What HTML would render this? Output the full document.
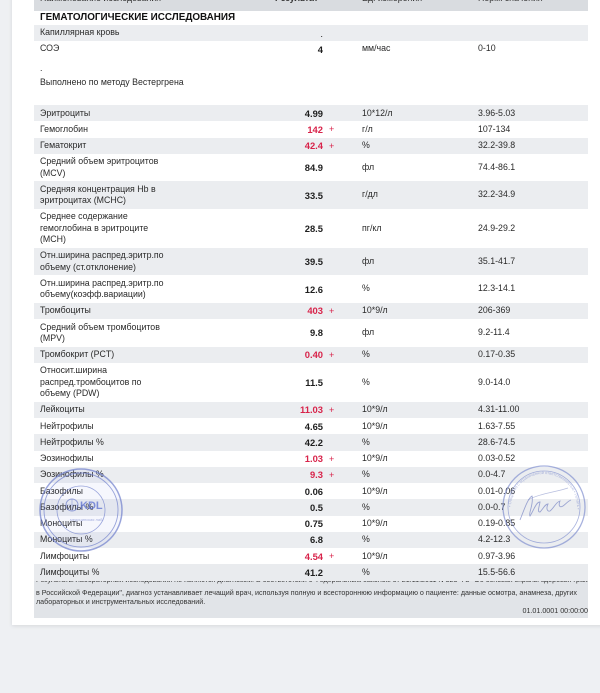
<!DOCTYPE html>
<html><head><meta charset="utf-8">
<style>
html,body{margin:0;padding:0;}
body{width:600px;height:693px;background:#eef0f3;position:relative;overflow:hidden;font-family:"Liberation Sans","Noto Sans CJK SC",sans-serif;color:#2a2a2a;}
.card{position:absolute;left:12px;top:-10px;width:600px;height:635px;background:#fff;box-shadow:0 1px 4px rgba(0,0,0,0.10);}
.r{position:absolute;left:34px;width:554px;font-size:8.8px;z-index:2;}
.g{background:#ebedf0;}
.r>span{position:absolute;top:0;height:100%;display:flex;align-items:center;white-space:nowrap;}
.r i{font-style:normal;display:block;line-height:11.2px;}
.n{left:6px;}
.v{right:265px;font-weight:bold;font-size:9.4px;color:#1e1e1e;}
.red{color:#d8234a !important;}
.p{left:295px;color:#d8234a;font-size:9px;}
.u{left:328px;}
.m{left:444px;}
.hd{position:absolute;left:34px;top:0;width:554px;height:10.5px;background:#d9dce0;overflow:hidden;font-size:8.8px;color:#333;}
.hd span{position:absolute;top:-7px;white-space:nowrap;}
.title{position:absolute;left:40px;top:11px;font-size:9.9px;font-weight:bold;color:#111;line-height:13px;white-space:nowrap;}
.t{position:absolute;font-size:8.8px;white-space:nowrap;line-height:12px;}
.foot{position:absolute;left:34px;top:570px;width:554px;height:47.5px;background:#e1e4e8;z-index:1;font-size:7.15px;color:#333;overflow:hidden;}
.foot div{position:absolute;left:2px;white-space:nowrap;line-height:9px;}
svg.st{position:absolute;left:0;top:0;z-index:5;pointer-events:none;}
</style></head><body>
<div class="card"></div>

<div class="hd">
<span style="left:6px">Наименование исследования</span>
<span style="left:241px;font-weight:bold">Результат</span>
<span style="left:328px">Ед. измерения</span>
<span style="left:444px">Норм. значения</span>
</div>

<div class="title">ГЕМАТОЛОГИЧЕСКИЕ ИССЛЕДОВАНИЯ</div>

<div class="r g" style="top:25px;height:16px"><span class="n"><i>Капиллярная кровь</i></span><span class="v" style="font-weight:normal">.</span></div>
<div class="r" style="top:41px;height:16px"><span class="n"><i>СОЭ</i></span><span class="v">4</span><span class="u"><i>мм/час</i></span><span class="m"><i>0-10</i></span></div>
<div class="t" style="left:40px;top:62px">.</div>
<div class="t" style="left:40px;top:75.5px">Выполнено по методу Вестергрена</div>

<div class="r g" style="top:105px;height:16.25px"><span class="n"><i>Эритроциты</i></span><span class="v">4.99</span><span class="u"><i>10*12/л</i></span><span class="m"><i>3.96-5.03</i></span></div>
<div class="r" style="top:121.25px;height:16.25px"><span class="n"><i>Гемоглобин</i></span><span class="v red">142</span><span class="p">+</span><span class="u"><i>г/л</i></span><span class="m"><i>107-134</i></span></div>
<div class="r g" style="top:137.5px;height:16.25px"><span class="n"><i>Гематокрит</i></span><span class="v red">42.4</span><span class="p">+</span><span class="u"><i>%</i></span><span class="m"><i>32.2-39.8</i></span></div>
<div class="r" style="top:153.75px;height:27.5px"><span class="n"><i>Средний объем эритроцитов<br>(MCV)</i></span><span class="v">84.9</span><span class="u"><i>фл</i></span><span class="m"><i>74.4-86.1</i></span></div>
<div class="r g" style="top:181.25px;height:27.5px"><span class="n"><i>Средняя концентрация Hb в<br>эритроцитах (MCHC)</i></span><span class="v">33.5</span><span class="u"><i>г/дл</i></span><span class="m"><i>32.2-34.9</i></span></div>
<div class="r" style="top:208.75px;height:39px"><span class="n"><i>Среднее содержание<br>гемоглобина в эритроците<br>(MCH)</i></span><span class="v">28.5</span><span class="u"><i>пг/кл</i></span><span class="m"><i>24.9-29.2</i></span></div>
<div class="r g" style="top:247.75px;height:27.5px"><span class="n"><i>Отн.ширина распред.эритр.по<br>объему (ст.отклонение)</i></span><span class="v">39.5</span><span class="u"><i>фл</i></span><span class="m"><i>35.1-41.7</i></span></div>
<div class="r" style="top:275.25px;height:27.5px"><span class="n"><i>Отн.ширина распред.эритр.по<br>объему(коэфф.вариации)</i></span><span class="v">12.6</span><span class="u"><i>%</i></span><span class="m"><i>12.3-14.1</i></span></div>
<div class="r g" style="top:302.75px;height:16.25px"><span class="n"><i>Тромбоциты</i></span><span class="v red">403</span><span class="p">+</span><span class="u"><i>10*9/л</i></span><span class="m"><i>206-369</i></span></div>
<div class="r" style="top:319px;height:27.5px"><span class="n"><i>Средний объем тромбоцитов<br>(MPV)</i></span><span class="v">9.8</span><span class="u"><i>фл</i></span><span class="m"><i>9.2-11.4</i></span></div>
<div class="r g" style="top:346.5px;height:16.25px"><span class="n"><i>Тромбокрит (PCT)</i></span><span class="v red">0.40</span><span class="p">+</span><span class="u"><i>%</i></span><span class="m"><i>0.17-0.35</i></span></div>
<div class="r" style="top:362.75px;height:39px"><span class="n"><i>Относит.ширина<br>распред.тромбоцитов по<br>объему (PDW)</i></span><span class="v">11.5</span><span class="u"><i>%</i></span><span class="m"><i>9.0-14.0</i></span></div>
<div class="r g" style="top:401.75px;height:16.25px"><span class="n"><i>Лейкоциты</i></span><span class="v red">11.03</span><span class="p">+</span><span class="u"><i>10*9/л</i></span><span class="m"><i>4.31-11.00</i></span></div>
<div class="r" style="top:418px;height:16.25px"><span class="n"><i>Нейтрофилы</i></span><span class="v">4.65</span><span class="u"><i>10*9/л</i></span><span class="m"><i>1.63-7.55</i></span></div>
<div class="r g" style="top:434.25px;height:16.25px"><span class="n"><i>Нейтрофилы %</i></span><span class="v">42.2</span><span class="u"><i>%</i></span><span class="m"><i>28.6-74.5</i></span></div>
<div class="r" style="top:450.5px;height:16.25px"><span class="n"><i>Эозинофилы</i></span><span class="v red">1.03</span><span class="p">+</span><span class="u"><i>10*9/л</i></span><span class="m"><i>0.03-0.52</i></span></div>
<div class="r g" style="top:466.75px;height:16.25px"><span class="n"><i>Эозинофилы %</i></span><span class="v red">9.3</span><span class="p">+</span><span class="u"><i>%</i></span><span class="m"><i>0.0-4.7</i></span></div>
<div class="r" style="top:483px;height:16.25px"><span class="n"><i>Базофилы</i></span><span class="v">0.06</span><span class="u"><i>10*9/л</i></span><span class="m"><i>0.01-0.06</i></span></div>
<div class="r g" style="top:499.25px;height:16.25px"><span class="n"><i>Базофилы %</i></span><span class="v">0.5</span><span class="u"><i>%</i></span><span class="m"><i>0.0-0.7</i></span></div>
<div class="r" style="top:515.5px;height:16.25px"><span class="n"><i>Моноциты</i></span><span class="v">0.75</span><span class="u"><i>10*9/л</i></span><span class="m"><i>0.19-0.85</i></span></div>
<div class="r g" style="top:531.75px;height:16.25px"><span class="n"><i>Моноциты %</i></span><span class="v">6.8</span><span class="u"><i>%</i></span><span class="m"><i>4.2-12.3</i></span></div>
<div class="r" style="top:548px;height:16.25px"><span class="n"><i>Лимфоциты</i></span><span class="v red">4.54</span><span class="p">+</span><span class="u"><i>10*9/л</i></span><span class="m"><i>0.97-3.96</i></span></div>
<div class="r g" style="top:564.25px;height:16.5px;background:#e9ebee"><span class="n"><i>Лимфоциты %</i></span><span class="v">41.2</span><span class="u"><i>%</i></span><span class="m"><i>15.5-56.6</i></span></div>

<div class="foot">
<div style="top:5.5px">Результаты лабораторных исследований не являются диагнозом. В соответствии с Федеральным законом от 21.11.2011 N 323-ФЗ "Об основах охраны здоровья граждан</div>
<div style="top:18.5px">в Российской Федерации", диагноз устанавливает лечащий врач, используя полную и всестороннюю информацию о пациенте: данные осмотра, анамнеза, других</div>
<div style="top:27.5px">лабораторных и инструментальных исследований.</div>
<div style="top:37px;left:auto;right:0">01.01.0001 00:00:00</div>
</div>

<svg class="st" width="600" height="693" viewBox="0 0 600 693">
<g fill="none" stroke="#6f7fcc" stroke-opacity="0.7">
<circle cx="81" cy="510" r="41" stroke-width="1.5" fill="#8090dd" fill-opacity="0.07"/>
<circle cx="81" cy="510" r="37" stroke-width="0.9"/>
<circle cx="81" cy="510" r="24" stroke-width="0.8"/>
<circle cx="72" cy="505" r="6" stroke-width="1"/>
<path d="M66 505h12M72 499v12" stroke-width="0.6"/>
</g>
<text x="80" y="509" font-family="Liberation Sans, sans-serif" font-size="11" font-weight="bold" fill="#5b6fcf" fill-opacity="0.75">KDL</text>
<text x="70" y="521" font-family="Liberation Sans, sans-serif" font-size="4" fill="#6f7fcc" fill-opacity="0.6">медицинская лаб.</text>
<g fill="none" stroke="#7a88cc" stroke-opacity="0.65">
<circle cx="544" cy="507" r="41" stroke-width="1.3"/>
<circle cx="544" cy="507" r="36" stroke-width="0.8"/>
</g>
<path id="arcR" d="M511 507a33 33 0 1 1 66 0a33 33 0 1 1 -66 0" fill="none" stroke="none"/>
<text font-family="Liberation Sans, sans-serif" font-size="4" fill="#7a88cc" fill-opacity="0.6"><textPath href="#arcR">• Общество с ограниченной ответственностью • Печать •</textPath></text>
<path d="M520 520c4-10 8-22 12-24c2 8-4 18-2 20c4-6 6-14 10-14c-1 6-3 10 0 10c3-3 5-8 8-8c-2 4-1 8 2 7c4-3 6-9 10-10c-2 5 0 7 3 5c3-2 5-5 8-6" fill="none" stroke="#6f7dc0" stroke-opacity="0.65" stroke-width="0.9"/>
<path d="M528 500c10-6 28-8 40-12" fill="none" stroke="#6f7dc0" stroke-opacity="0.5" stroke-width="0.7"/>
</svg>
</body></html>
